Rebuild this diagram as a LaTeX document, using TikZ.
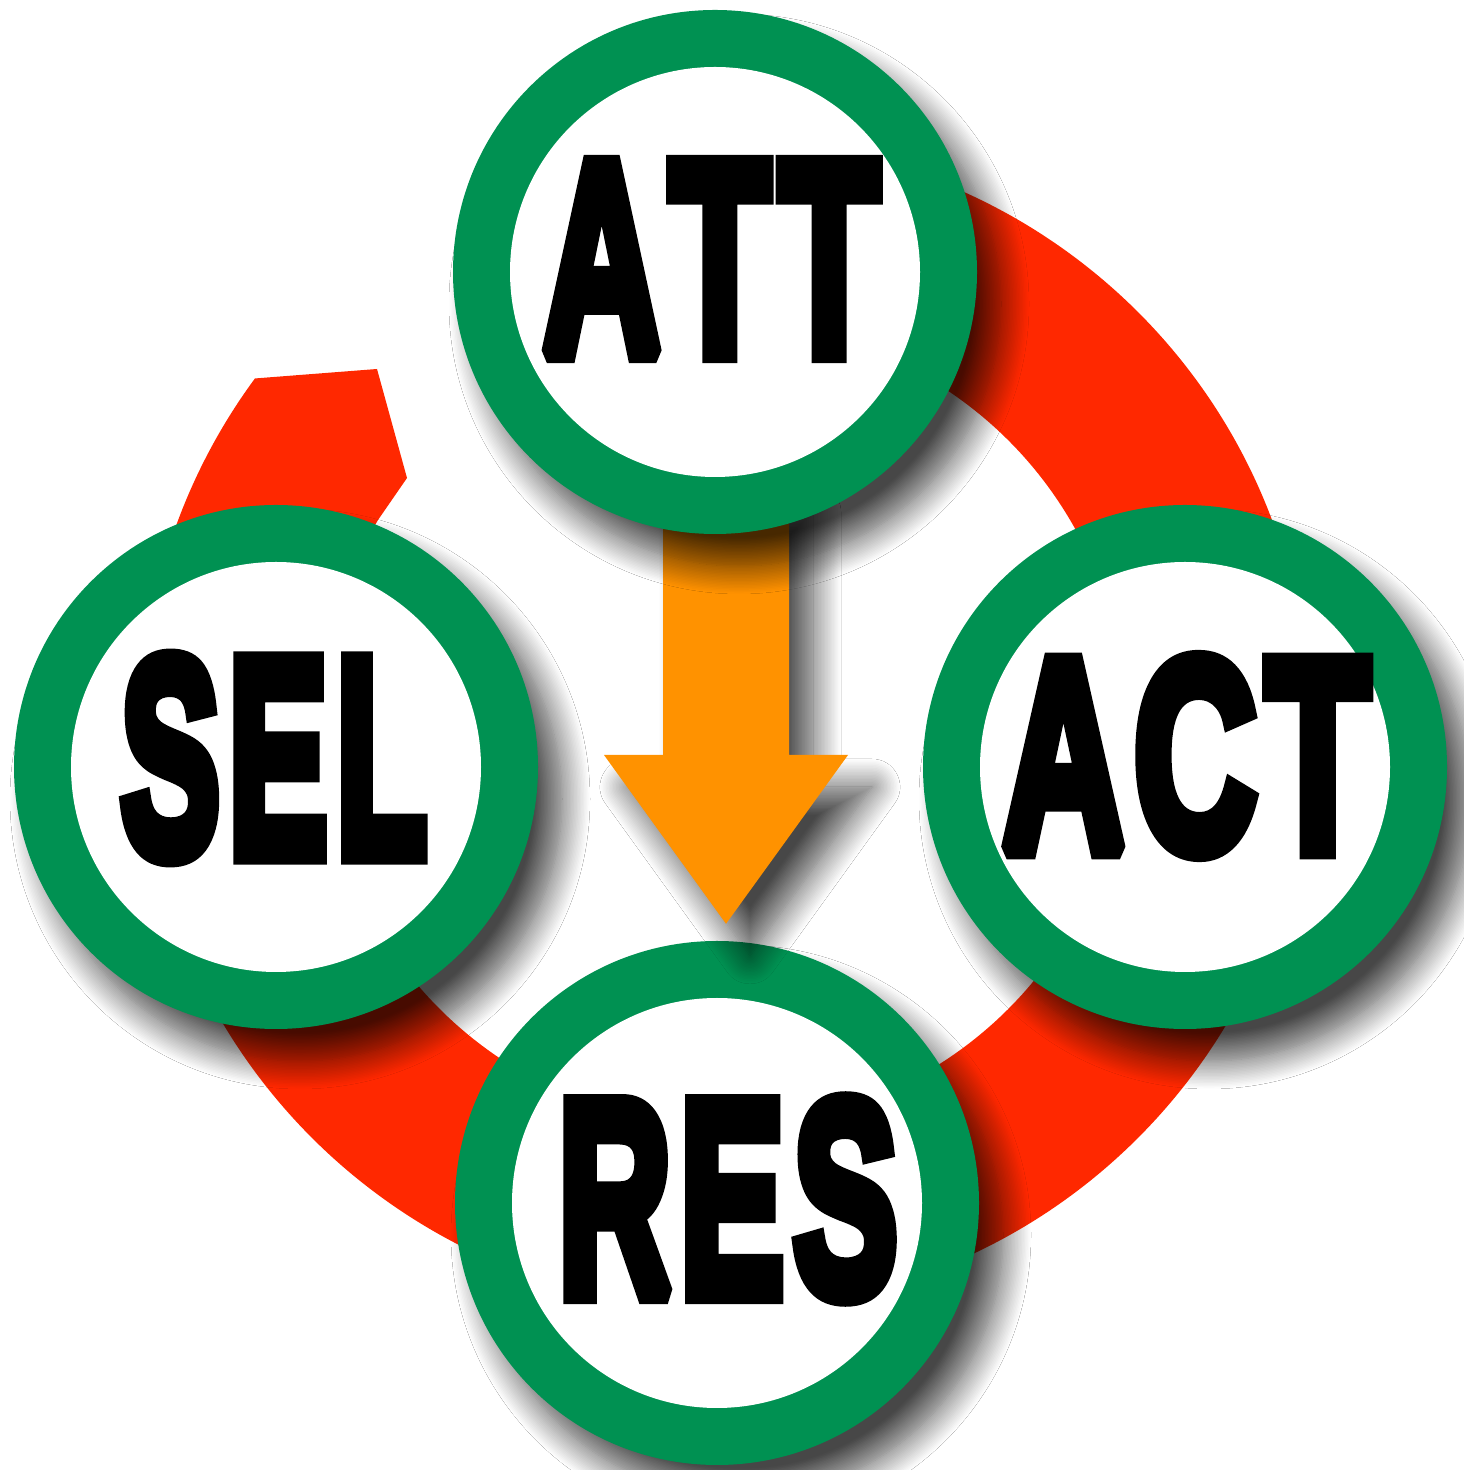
\documentclass[tikz,border=0pt]{standalone}
\usepackage{fontspec}
\usepackage{graphicx}
\newfontfamily\heavyfont{Liberation Sans}[BoldFeatures={FakeBold=7}]
\usetikzlibrary{calc,shadows.blur}

\definecolor{ringgreen}{RGB}{0,145,82}
\definecolor{bandred}{RGB}{255,40,0}
\definecolor{arroworange}{RGB}{255,146,0}

\tikzset{
  softshadow/.style={blur shadow={shadow xshift=24pt, shadow yshift=-32pt,
      shadow blur radius=28pt, shadow blur steps=20, shadow opacity=72}},
  stage/.style={circle, fill=ringgreen, minimum size=524pt, inner sep=0pt, softshadow,
      path picture={\fill[white] (path picture bounding box.center) circle[radius=205pt];}},
  tag/.style={inner sep=0pt, text=black, line join=miter, miter limit=1.5},
}
% three letters, spaced a little apart
\newcommand{\stagetext}[5]{\resizebox{#1pt}{#2pt}{\heavyfont\bfseries #3\kern0.06em #4\kern0.06em #5}}

\begin{document}
\begin{tikzpicture}[x=1pt, y=1pt]
    \useasboundingbox (0,0) rectangle (1464,1470);
    \fill[white] (0,0) rectangle (1464,1470);

    \coordinate (hub) at (725,745);

    % red cycle band, ends on the upper left
    \fill[bandred] ($(hub)+(95:584)$) arc[start angle=95, end angle=-216.4, radius=584]
        -- (377,1101) -- (407,992) -- (378,950)
        arc[start angle=-210.6, end angle=95, radius=402] -- cycle;

    \node[stage] (SEL) at (276,703) {};
    \node[tag] (SELtext) at (274,712) {\stagetext{306}{196}{S}{E}{L}};

    \node[stage] (RES) at (717,267) {};
    \node[tag] (REStext) at (728,271) {\stagetext{339}{193}{R}{E}{S}};

    % orange arrow ATT -> RES
    \coordinate (tip) at ($(RES.north)+(9,17)$);
    \fill[arroworange, softshadow] (663,990) -- (663,715) -- (604,715) -- (tip)
        -- (848,715) -- (789,715) -- (789,990) -- cycle;

    \node[stage] (ATT) at (715,1198) {};
    \node[tag] (ATTtext) at (711,1211) {\stagetext{336}{189}{A}{T}{T}};

    \node[stage] (ACT) at (1185,703) {};
    \node[tag] (ACTtext) at (1186,714) {\stagetext{367}{190}{A}{C}{T}};
\end{tikzpicture}
\end{document}
